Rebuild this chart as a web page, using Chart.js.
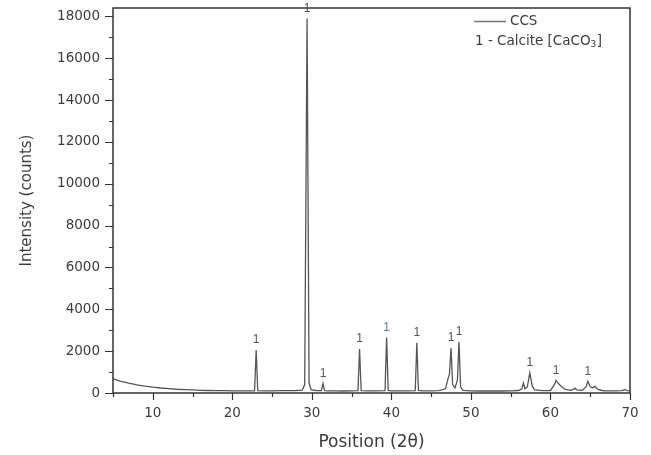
<!DOCTYPE html>
<html>
<head>
<meta charset="utf-8">
<script src="https://cdn.jsdelivr.net/npm/chart.js@4.4.1/dist/chart.umd.min.js"></script>
<style>
  html, body { margin: 0; padding: 0; background: #fff; }
  #wrap { width: 651px; height: 455px; }
</style>
</head>
<body>
<div id="wrap"><canvas id="xrd"></canvas></div>
<script>
// diffraction pattern, 2-theta vs counts
const twoTheta = [
  5, 5.5, 6, 7, 8, 9, 10, 11, 12, 13, 14, 15, 16, 17, 18, 19, 20, 21, 22,
  22.8, 23.0, 23.2, 24, 25, 26, 27, 28, 28.8, 29.1, 29.4, 29.65, 29.9, 30.5,
  31.2, 31.4, 31.6, 32, 33, 34, 35, 35.8, 36.0, 36.2, 37, 38, 39.2, 39.4, 39.6,
  40, 41, 42, 43.0, 43.2, 43.4, 44, 45, 46, 46.8, 47.1, 47.3, 47.5, 47.7, 48.0,
  48.3, 48.5, 48.7, 49, 50, 51, 52, 53, 54, 55, 56, 56.4, 56.6, 56.8, 57.1,
  57.4, 57.7, 58, 59, 60, 60.5, 60.7, 61.0, 61.4, 61.8, 62.5, 63.0, 63.1, 63.3,
  64, 64.5, 64.7, 65.0, 65.3, 65.6, 65.9, 66.5, 67, 68, 69, 69.4, 69.6, 70
];
const counts = [
  690, 620, 560, 470, 390, 330, 280, 240, 210, 180, 160, 145, 130, 120, 115, 110, 105, 105, 100,
  105, 2050, 110, 100, 105, 110, 115, 120, 140, 400, 17900, 500, 160, 120,
  110, 450, 110, 100, 100, 95, 100, 110, 2100, 110, 100, 100, 110, 2650, 120,
  100, 100, 100, 110, 2400, 120, 100, 100, 110, 200, 650, 900, 2150, 400, 250,
  600, 2450, 300, 130, 100, 95, 95, 95, 95, 100, 120, 200, 480, 200, 300,
  960, 350, 150, 110, 120, 400, 600, 450, 300, 180, 130, 200, 230, 150,
  130, 300, 560, 300, 250, 330, 180, 120, 100, 100, 110, 170, 110, 100
];

// calcite reflections marked "1"
const peakPos = [23.0, 29.4, 31.4, 36.0, 39.4, 43.2, 47.5, 48.5, 57.4, 60.7, 64.7];
const peakText = '1';

const yTicks = [0, 2000, 4000, 6000, 8000, 10000, 12000, 14000, 16000, 18000];
const xTicks = [10, 20, 30, 40, 50, 60, 70];

const axisColor = '#333';
const textColor = '#3c3c3c';
const lineColor = '#555';
const font = '"DejaVu Sans", sans-serif';
const labelFont = '"Liberation Sans", Arial, sans-serif';

const points = twoTheta.map((t, i) => ({ x: t, y: counts[i] }));

// box, minor ticks, peak marks and legend
const decorations = {
  id: 'decorations',
  afterDraw(chart) {
    const { ctx, chartArea: { left, right, top, bottom } } = chart;
    const xs = chart.scales.x;
    const ys = chart.scales.y;
    ctx.save();

    ctx.strokeStyle = axisColor;
    ctx.lineWidth = 1.5;
    ctx.strokeRect(left, top, right - left, bottom - top);

    // ticks
    ctx.lineWidth = 1.2;
    ctx.beginPath();
    for (let v = 0; v <= 18000; v += 1000) {
      const y = Math.round(ys.getPixelForValue(v)) + 0.5;
      const len = v % 2000 === 0 ? 8 : 4;
      ctx.moveTo(left - len, y);
      ctx.lineTo(left, y);
    }
    for (let v = 5; v <= 70; v += 5) {
      const x = Math.round(xs.getPixelForValue(v)) + 0.5;
      const len = v % 10 === 0 ? 7 : 4;
      ctx.moveTo(x, bottom);
      ctx.lineTo(x, bottom + len);
    }
    ctx.stroke();

    // peak marks
    ctx.font = '12px ' + labelFont;
    ctx.textAlign = 'center';
    ctx.textBaseline = 'bottom';
    peakPos.forEach(p => {
      const i = twoTheta.indexOf(p);
      const x = xs.getPixelForValue(p);
      const y = ys.getPixelForValue(counts[i]);
      ctx.fillStyle = p === 39.4 ? '#5b7f9c' : '#555';
      ctx.fillText(peakText, x, y - 4);
    });

    // legend
    ctx.strokeStyle = '#777';
    ctx.lineWidth = 1.5;
    ctx.beginPath();
    ctx.moveTo(474, 21.5);
    ctx.lineTo(506, 21.5);
    ctx.stroke();
    ctx.fillStyle = textColor;
    ctx.font = '13.5px ' + font;
    ctx.textAlign = 'left';
    ctx.textBaseline = 'middle';
    ctx.fillText('CCS', 510, 21);
    const base = '1 - Calcite [CaCO';
    ctx.fillText(base, 475, 41);
    let w = ctx.measureText(base).width;
    ctx.font = '9px ' + font;
    ctx.fillText('3', 475 + w, 45);
    w += ctx.measureText('3').width;
    ctx.font = '13.5px ' + font;
    ctx.fillText(']', 475 + w + 0.5, 41);

    ctx.restore();
  }
};

new Chart(document.getElementById('xrd'), {
  type: 'line',
  data: {
    datasets: [{
      label: 'CCS',
      data: points,
      borderColor: lineColor,
      borderWidth: 1.3,
      pointRadius: 0,
      tension: 0,
      fill: false
    }]
  },
  options: {
    responsive: true,
    maintainAspectRatio: false,
    animation: false,
    layout: { padding: { top: 8, right: 21, left: 0, bottom: 0 } },
    plugins: {
      legend: { display: false },
      tooltip: { enabled: false }
    },
    scales: {
      x: {
        type: 'linear',
        min: 5,
        max: 70,
        afterBuildTicks: s => { s.ticks = xTicks.map(v => ({ value: v })); },
        afterFit: s => {
          s.height = 62;
          s.paddingLeft = 0;
          s.paddingRight = 0;
        },
        grid: { display: false },
        border: { display: false },
        ticks: {
          color: textColor,
          font: { family: font, size: 13.5 },
          padding: 4,
          maxRotation: 0,
          callback: v => String(v)
        },
        title: {
          display: true,
          text: 'Position (2θ)',
          color: textColor,
          font: { family: font, size: 17 },
          padding: { top: 0, bottom: 2 }
        }
      },
      y: {
        min: 0,
        max: 18400,
        afterBuildTicks: s => { s.ticks = yTicks.map(v => ({ value: v })); },
        afterFit: s => {
          s.width = 113;
          s.paddingTop = 0;
          s.paddingBottom = 0;
        },
        grid: { display: false },
        border: { display: false },
        ticks: {
          color: textColor,
          font: { family: font, size: 13.5 },
          padding: 5,
          callback: v => String(v)
        },
        title: {
          display: true,
          text: 'Intensity (counts)',
          color: textColor,
          font: { family: font, size: 15 },
          padding: { top: 18, bottom: 0 }
        }
      }
    }
  },
  plugins: [decorations]
});
</script>
</body>
</html>
